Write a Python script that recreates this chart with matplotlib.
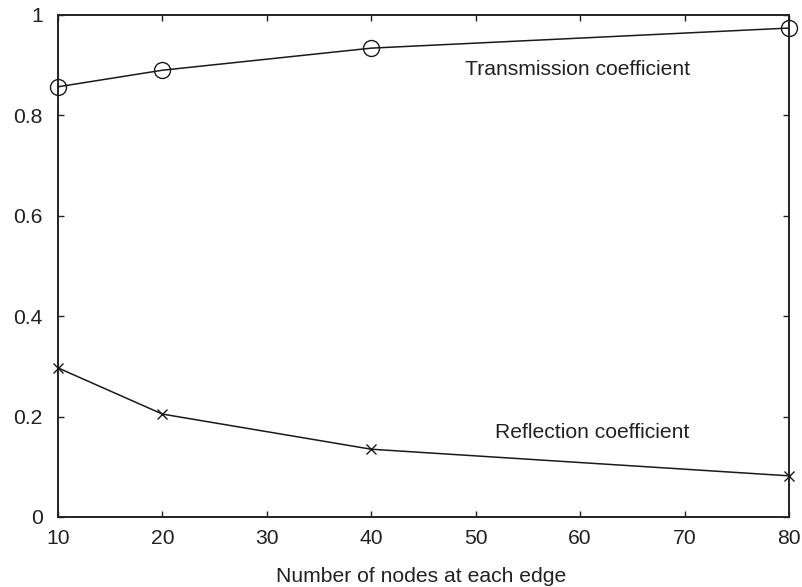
import matplotlib
matplotlib.use("Agg")
import matplotlib.pyplot as plt

plt.rcParams['font.family'] = ['Liberation Sans', 'DejaVu Sans']

nodes = [10, 20, 40, 80]
transmission = [0.857, 0.890, 0.934, 0.974]
reflection = [0.297, 0.205, 0.135, 0.082]
xticks = [10, 20, 30, 40, 50, 60, 70, 80]
yticks = [0, 0.2, 0.4, 0.6, 0.8, 1]
ytick_labels = ["0", "0.2", "0.4", "0.6", "0.8", "1"]

W, H = 802, 587
FS = 15.2
fig = plt.figure(figsize=(W / 100, H / 100), dpi=100)
ax = fig.add_axes([58 / W, 1 - 517 / H, (789 - 58) / W, (517 - 15) / H])

ax.plot(nodes, transmission, color='#1a1a1a', lw=1.1, marker='o', ms=11.5,
        mfc='none', mec='#1a1a1a', mew=1.0, clip_on=False, zorder=3)
ax.plot(nodes, reflection, color='#1a1a1a', lw=1.1, marker='x', ms=6.5,
        mec='#1a1a1a', mew=1.0, clip_on=False, zorder=3)

ax.set_xlim(10, 80)
ax.set_ylim(0, 1)
ax.set_xticks(xticks)
ax.set_yticks(yticks)
ax.set_yticklabels(ytick_labels)
ax.tick_params(direction='in', top=True, right=True, length=4.5, width=1.0,
               labelsize=FS, colors='#222222')
ax.tick_params(axis='y', pad=11)
ax.tick_params(axis='x', pad=9)
for s in ax.spines.values():
    s.set_linewidth(1.4)
    s.set_color('#222222')

fig.text(465 / W, 1 - 75 / H, "Transmission coefficient", fontsize=FS,
         color='#222222', va='baseline', ha='left')
fig.text(495 / W, 1 - 438 / H, "Reflection coefficient", fontsize=FS,
         color='#222222', va='baseline', ha='left')
fig.text(421.5 / W, 1 - 582 / H, "Number of nodes at each edge", fontsize=FS,
         color='#222222', va='baseline', ha='center')

fig.savefig("out.png", dpi=100)
